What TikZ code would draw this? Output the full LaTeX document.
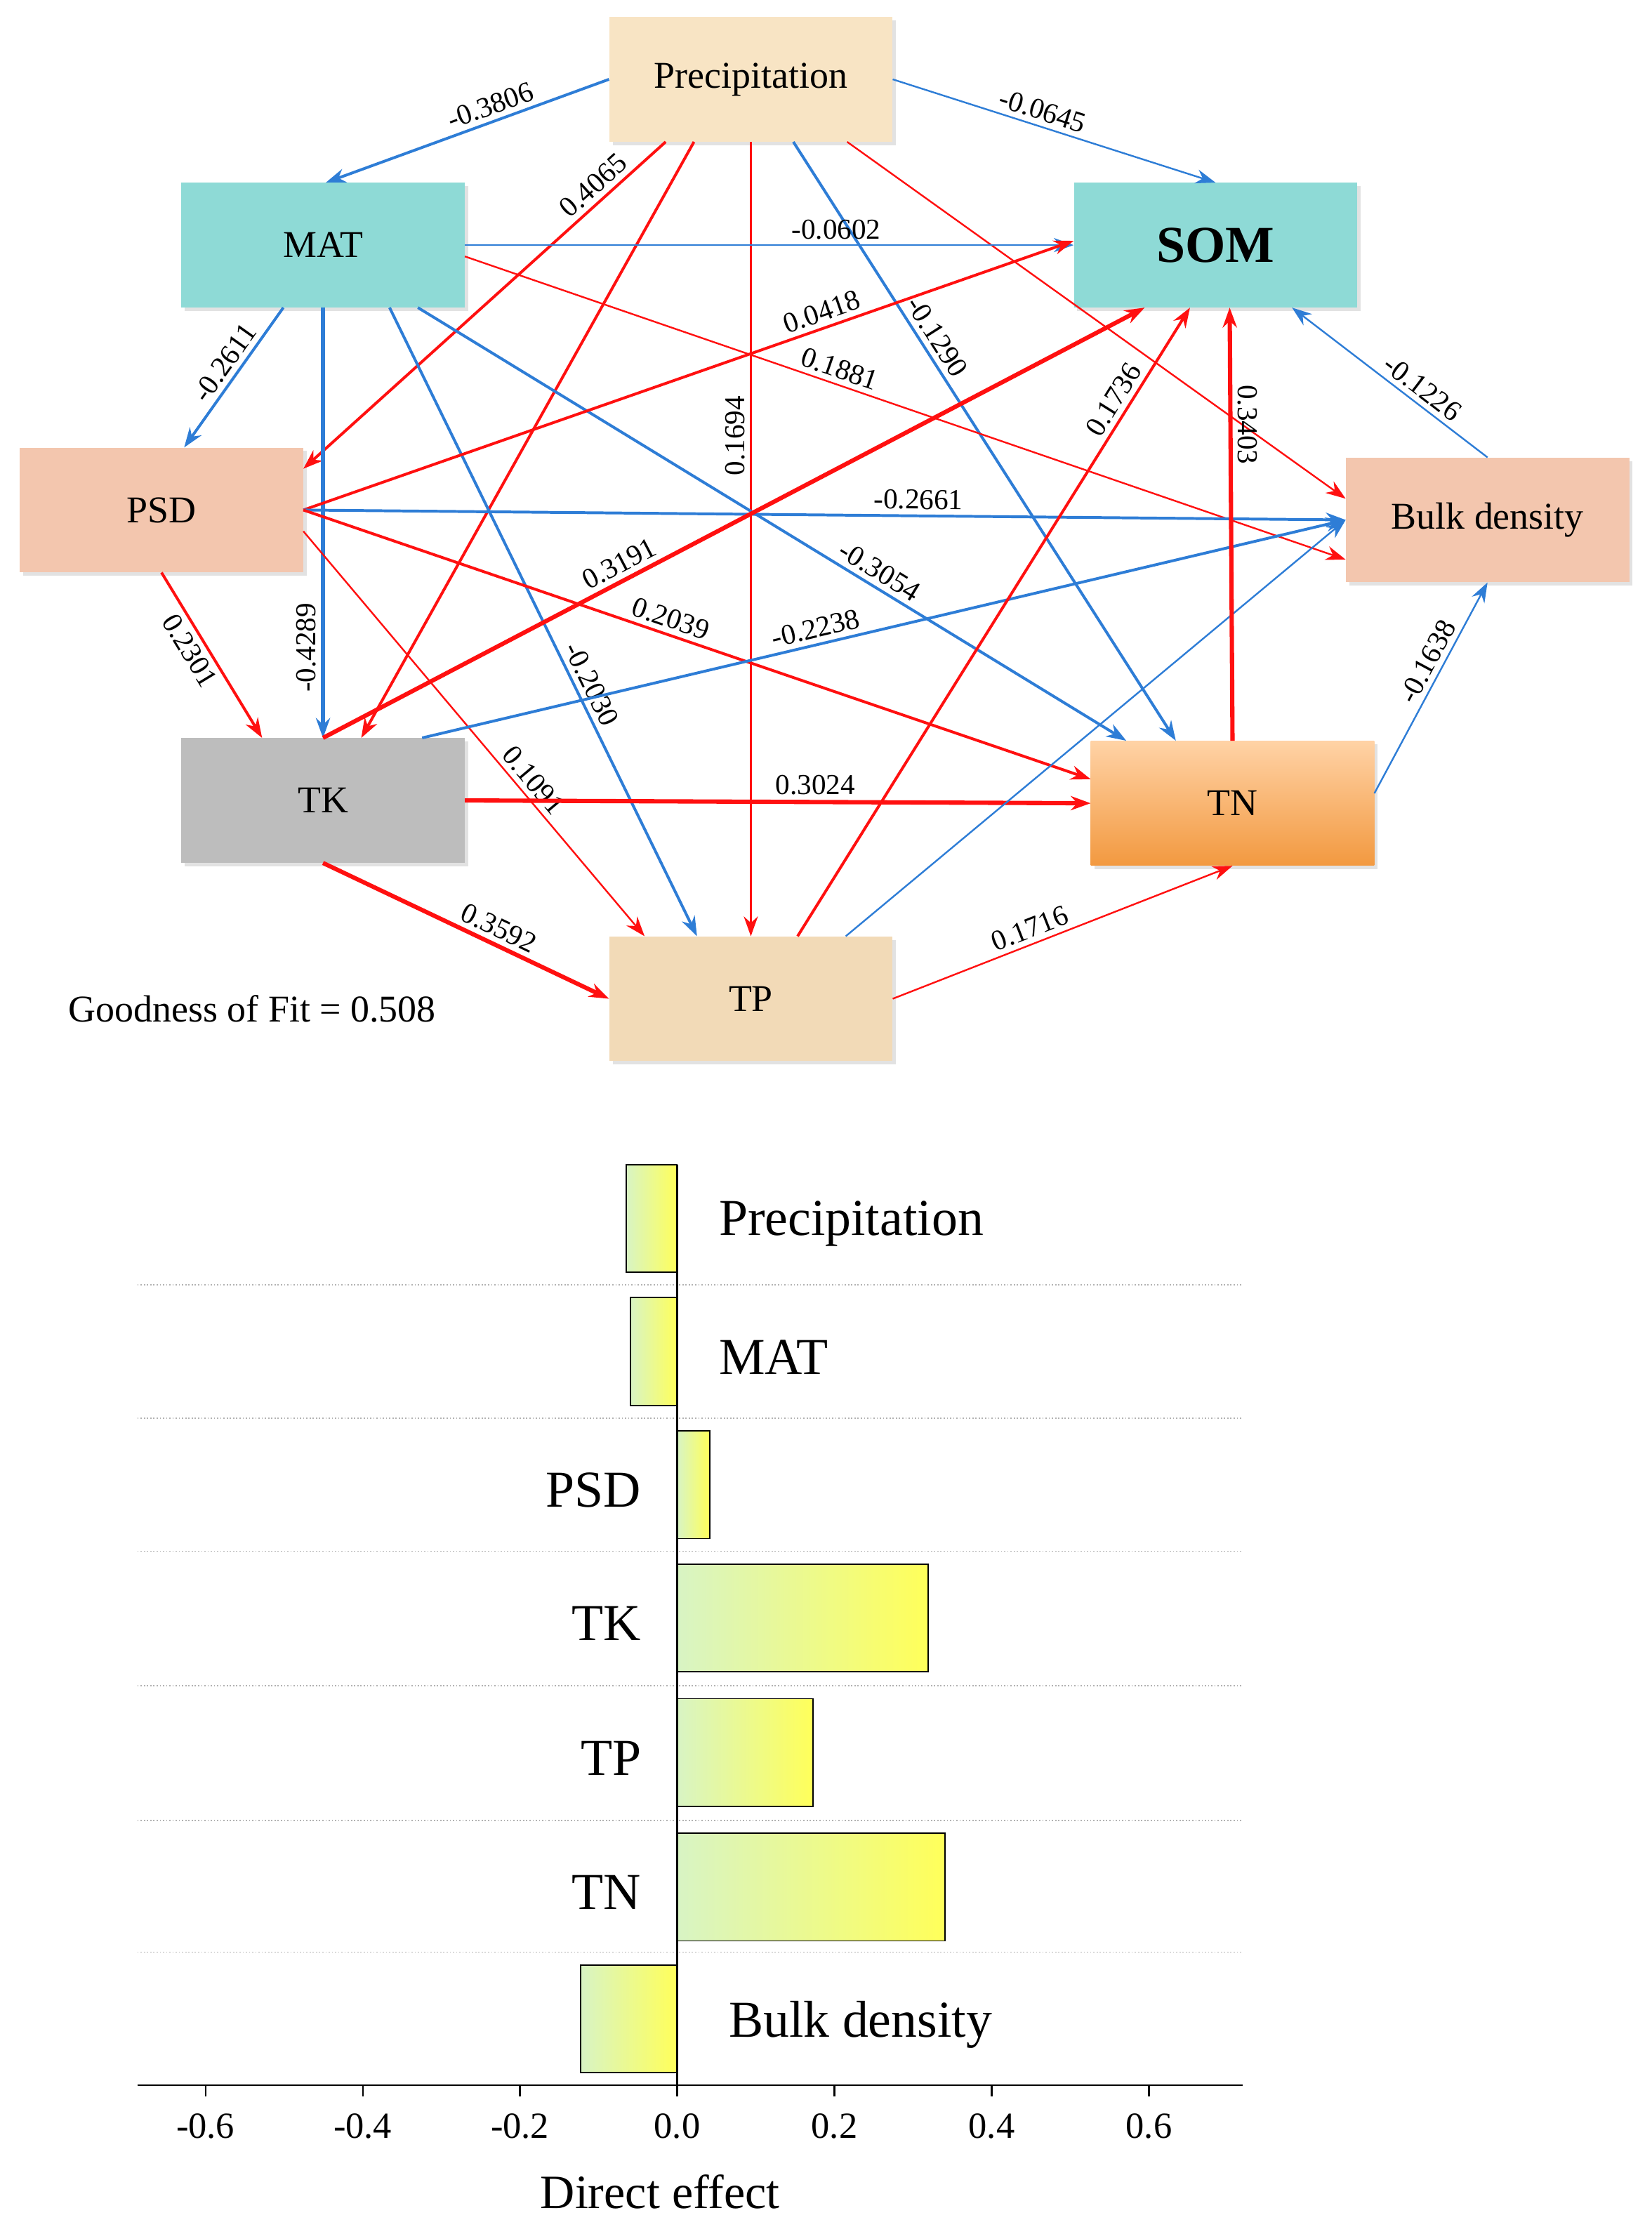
\documentclass[tikz,border=0pt]{standalone}
\usepackage{fontspec}
\setmainfont{Liberation Serif}
\usetikzlibrary{arrows.meta, positioning, shadows}

\definecolor{pathred}{HTML}{FF1010}
\definecolor{pathblue}{HTML}{2E7DD6}
\definecolor{wheatbox}{HTML}{F8E4C4}
\definecolor{tealbox}{HTML}{8EDAD6}
\definecolor{salmonbox}{HTML}{F3C6AE}
\definecolor{graybox}{HTML}{BDBDBD}
\definecolor{barleft}{HTML}{D8F4C4}
\definecolor{barright}{HTML}{FFFF5A}

\begin{document}
\begin{tikzpicture}[x=0.05cm,y=-0.05cm,
    var node/.style={rectangle,minimum width=10cm,minimum height=4.4cm,inner sep=0pt,
        font=\fontsize{38}{42}\selectfont,
        drop shadow={shadow xshift=0.12cm,shadow yshift=-0.12cm,fill=gray!45}},
    coef/.style={font=\fontsize{29}{32}\selectfont,inner sep=5pt},
    pos edge/.style={draw=pathred,-{Stealth[length=0.7cm,width=0.5cm]}},
    neg edge/.style={draw=pathblue,-{Stealth[length=0.7cm,width=0.5cm]}},
    thin line/.style={line width=1.7pt},
    mid line/.style={line width=2.8pt},
    bold line/.style={line width=4.3pt},
    bar/.style={draw=black,line width=1.2pt,left color=barleft,right color=barright},
    bar label/.style={font=\fontsize{52}{56}\selectfont}]

\useasboundingbox (0,0) rectangle (1166,1572);

% path diagram boxes
\node[var node,fill=wheatbox] (prec) at (530,56)  {Precipitation};
\node[var node,fill=tealbox]  (mat)  at (228,173) {MAT};
\node[var node,fill=tealbox,font=\fontsize{52}{56}\selectfont\bfseries] (som) at (858,173) {SOM};
\node[var node,fill=salmonbox] (psd) at (114,360) {PSD};
\node[var node,fill=salmonbox] (bd)  at (1050,367) {Bulk density};
\node[var node,fill=graybox]   (tk)  at (228,565) {TK};
\node[var node,top color=orange!35,bottom color=orange!75!brown!80] (tn) at (870,567) {TN};
\node[var node,fill=wheatbox!90!brown] (tp) at (530,705) {TP};

% paths
\draw[neg edge,mid line] (prec.west) -- node[coef,sloped,above,pos=.4] {-0.3806} ([xshift=0.1cm]mat.north);
\draw[neg edge,thin line] (prec.east) -- node[coef,sloped,above,pos=.45] {-0.0645} (som.north);
\draw[pos edge,mid line] ([xshift=2cm]prec.south west) -- node[coef,sloped,above,pos=.17] {0.4065} ([yshift=-0.75cm]psd.north east);
\draw[pos edge,mid line] ([xshift=3cm]prec.south west) -- ([xshift=1.35cm]tk.north);
\draw[pos edge,thin line] (prec.south) -- node[coef,pos=.37,rotate=90,anchor=south] {0.1694} (tp.north);
\draw[neg edge,mid line] ([xshift=1.5cm]prec.south) -- node[coef,sloped,above,pos=.34] {-0.1290} ([xshift=-2cm]tn.north);
\draw[pos edge,thin line] ([xshift=3.4cm]prec.south) -- ([yshift=0.75cm]bd.west);

\draw[neg edge,thin line] (mat.east) -- node[coef,above,pos=.61] {-0.0602} (som.west);
\draw[pos edge,thin line] ([yshift=-0.4cm]mat.east) -- node[coef,sloped,above,pos=.42] {0.1881} ([yshift=-1.4cm]bd.west);
\draw[neg edge,mid line] ([xshift=-1.4cm]mat.south) -- node[coef,sloped,above,pos=.46] {-0.2611} ([xshift=0.8cm]psd.north);
\draw[neg edge,bold line] (mat.south) -- node[coef,pos=.79,rotate=90,anchor=south] {-0.4289} (tk.north);
\draw[neg edge,mid line] ([xshift=2.35cm]mat.south) -- node[coef,sloped,above,pos=.61] {-0.2030} ([xshift=-1.9cm]tp.north);
\draw[neg edge,mid line] ([xshift=3.35cm]mat.south) -- node[coef,sloped,above,pos=.64] {-0.3054} ([xshift=-3.75cm]tn.north);

\draw[pos edge,mid line] (psd.east) -- node[coef,sloped,above,pos=.68] {0.0418} ([yshift=0.15cm]som.west);
\draw[neg edge,mid line] (psd.east) -- node[coef,sloped,above,pos=.59] {-0.2661} (bd.west);
\draw[pos edge,mid line] (psd.east) -- node[coef,sloped,above,pos=.46] {0.2039} ([yshift=0.85cm]tn.west);
\draw[pos edge,thin line] ([yshift=-0.75cm]psd.east) -- node[coef,sloped,above,pos=.64] {0.1091} ([xshift=-3.75cm]tp.north);
\draw[pos edge,mid line] (psd.south) -- node[coef,sloped,below,pos=.42] {0.2301} ([xshift=-2.15cm]tk.north);

\draw[pos edge,bold line] (tk.north) -- node[coef,sloped,above,pos=.37] {0.3191} ([xshift=-2.5cm]som.south);
\draw[neg edge,mid line] ([xshift=3.5cm]tk.north) -- node[coef,sloped,above,pos=.43] {-0.2238} (bd.west);
\draw[pos edge,bold line] (tk.east) -- node[coef,above,pos=.56] {0.3024} (tn.west);
\draw[pos edge,bold line] (tk.south) -- node[coef,sloped,above,pos=.59] {0.3592} (tp.west);

\draw[pos edge,mid line] ([xshift=1.65cm]tp.north) -- node[coef,sloped,above,pos=.84] {0.1736} ([xshift=-0.9cm]som.south);
\draw[neg edge,thin line] ([xshift=3.35cm]tp.north) -- (bd.west);
\draw[pos edge,thin line] (tp.east) -- node[coef,sloped,above,pos=.42] {0.1716} (tn.south);

\draw[pos edge,bold line] (tn.north) -- node[coef,pos=.73,rotate=-90,anchor=south] {0.3403} ([xshift=0.5cm]som.south);
\draw[neg edge,thin line] ([yshift=0.35cm]tn.east) -- node[coef,sloped,above,pos=.59] {-0.1638} (bd.south);
\draw[neg edge,thin line] (bd.north) -- node[coef,sloped,above,pos=.38] {-0.1226} ([xshift=2.7cm]som.south);

\node[font=\fontsize{38}{42}\selectfont] (fit) at (178,712) {Goodness of Fit = 0.508};

% bar chart of direct effects
\foreach \y in {907,1001,1095,1190,1285,1378}
  \draw[gray!60,dotted,line width=1.2pt] (97,\y) -- (877,\y);
\draw[bar] (478,822) rectangle (442,898);
\draw[bar] (478,916) rectangle (445,992);
\draw[bar] (478,1010) rectangle (501,1086);
\draw[bar] (478,1104) rectangle (655,1180);
\draw[bar] (478,1199) rectangle (574,1275);
\draw[bar] (478,1294) rectangle (667,1370);
\draw[bar] (478,1387) rectangle (410,1463);
\draw[line width=1.5pt] (478,822) -- (478,1472);
\draw[line width=1.5pt] (97,1472) -- (877,1472);
\foreach \v/\x in {-0.6/145,-0.4/256,-0.2/367,0.0/478,0.2/589,0.4/700,0.6/811}{
  \draw[line width=1.5pt] (\x,1472) -- (\x,1480);
  \node[font=\fontsize{37}{40}\selectfont] at (\x,1501) {\v};
}
\node[font=\fontsize{48}{52}\selectfont] (xlab) at (466,1547) {Direct effect};

\node[bar label,anchor=west] at (505,864) {Precipitation};
\node[bar label,anchor=west] at (505,958) {MAT};
\node[bar label,anchor=east] at (455,1052) {PSD};
\node[bar label,anchor=east] at (455,1146) {TK};
\node[bar label,anchor=east] at (455,1241) {TP};
\node[bar label,anchor=east] at (455,1336) {TN};
\node[bar label,anchor=west] at (512,1429) {Bulk density};
\end{tikzpicture}
\end{document}
